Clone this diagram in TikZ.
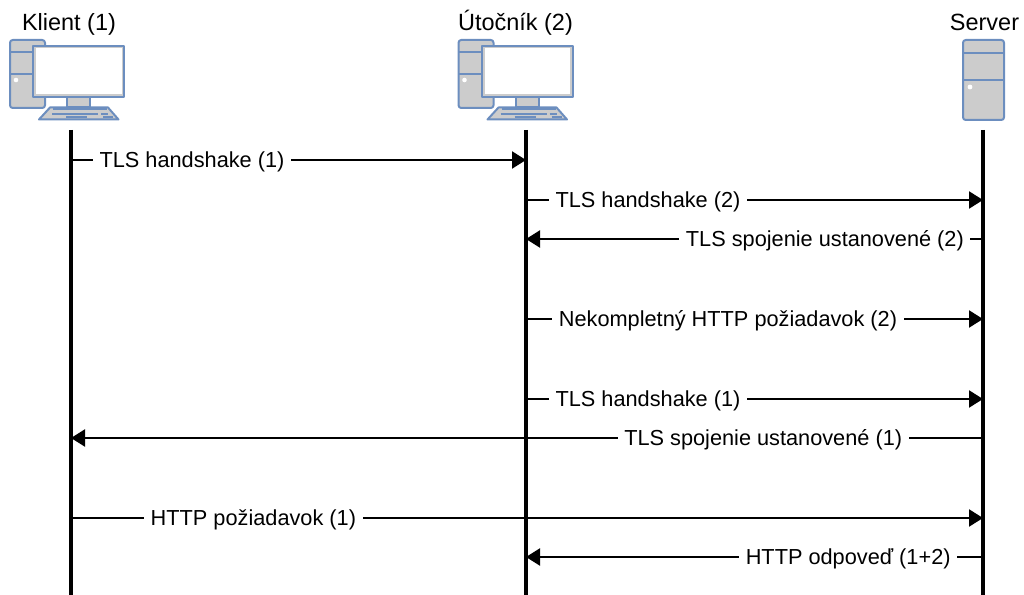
\documentclass[tikz,border=0pt]{standalone}
\usepackage{fontspec}
\setmainfont{Liberation Sans}
\usetikzlibrary{arrows.meta}
\definecolor{iconblue}{HTML}{6C8EBF}
\definecolor{icongrey}{HTML}{CCCCCC}
\tikzset{>={Triangle[length=10.5pt,width=12.8pt]}}
\tikzset{life/.style={line width=2.3pt}}
\tikzset{msg/.style={->,line width=1.5pt}}
\tikzset{lab/.style={fill=white,inner xsep=5pt,inner ysep=0pt,yshift=-1.5pt,font=\fontsize{16.3pt}{19pt}\selectfont}}
\tikzset{head/.style={anchor=base,inner sep=0pt,font=\fontsize{17.6pt}{20pt}\selectfont}}
\tikzset{part/.style={draw=iconblue,fill=icongrey,line width=1.5pt,line join=round}}
\tikzset{keys/.style={draw=iconblue,line width=1.5pt}}
\tikzset{pc/.pic={
  \draw[part,rounded corners=2pt] (10,40) rectangle (45,108);
  \draw[keys] (10,52) -- (45,52) (10,74) -- (45,74);
  \fill[white] (16,80) circle (2.3);
  \draw[part] (67,97) rectangle (90,107);
  \draw[part] (33,46) rectangle (124,97);
  \fill[white] (36,48.5) rectangle (121.5,94);
  \draw[part] (39,119.5) -- (50,107.5) -- (108,107.5) -- (118.5,119.5) -- cycle;
  \draw[keys] (53,109.5) -- (107,109.5) (52,114) -- (98,114) (66,117.5) -- (87,117.5)
    (101,114) -- (108,114) (103,117.5) -- (113,117.5);
}}
\tikzset{srv/.pic={
  \draw[part,rounded corners=2pt] (963,40) rectangle (1004,120);
  \draw[keys] (963,53) -- (1004,53) (963,80) -- (1004,80);
  \fill[white] (970,87) circle (2.4);
}}

\begin{document}
\begin{tikzpicture}[x=0.75pt,y=-0.75pt]
\useasboundingbox (0,0) rectangle (1024,595);

\pic (klientpc) at (0,0) {pc};
\pic (utokpc) at (448.5,0) {pc};
\pic (serverpc) at (0,0) {srv};

\node[head] (klient) at (69,31) {Klient (1)};
\node[head] (utok) at (515.5,31) {Útočník (2)};
\node[head] (server) at (984.5,31) {Server};

\coordinate (kt) at (71,130);
\coordinate (kb) at (71,595);
\coordinate (ut) at (526,130);
\coordinate (ub) at (526,595);
\coordinate (st) at (983,130);
\coordinate (sb) at (983,595);

\draw[life] (kt) -- (kb);
\draw[life] (ut) -- (ub);
\draw[life] (st) -- (sb);

\coordinate (k1) at (71,160);
\coordinate (u1) at (526,160);
\coordinate (u2) at (526,200);
\coordinate (s2) at (983,200);
\coordinate (s3) at (983,239);
\coordinate (u3) at (526,239);
\coordinate (u4) at (526,319);
\coordinate (s4) at (983,319);
\coordinate (u5) at (526,399);
\coordinate (s5) at (983,399);
\coordinate (s6) at (983,438);
\coordinate (k6) at (71,438);
\coordinate (k7) at (71,518);
\coordinate (s7) at (983,518);
\coordinate (s8) at (983,557);
\coordinate (u8) at (526,557);

\draw[msg] (k1) -- node[lab,pos=0.266] (m1) {TLS handshake (1)} (u1);
\draw[msg] (u2) -- node[lab,pos=0.267] (m2) {TLS handshake (2)} (s2);
\draw[msg] (s3) -- node[lab,pos=0.346] (m3) {TLS spojenie ustanovené (2)} (u3);
\draw[msg] (u4) -- node[lab,pos=0.442] (m4) {Nekompletný HTTP požiadavok (2)} (s4);
\draw[msg] (u5) -- node[lab,pos=0.267] (m5) {TLS handshake (1)} (s5);
\draw[msg] (s6) -- node[lab,pos=0.241] (m6) {TLS spojenie ustanovené (1)} (k6);
\draw[msg] (k7) -- node[lab,pos=0.2] (m7) {HTTP požiadavok (1)} (s7);
\draw[msg] (s8) -- node[lab,pos=0.295] (m8) {HTTP odpoveď (1+2)} (u8);
\end{tikzpicture}
\end{document}
